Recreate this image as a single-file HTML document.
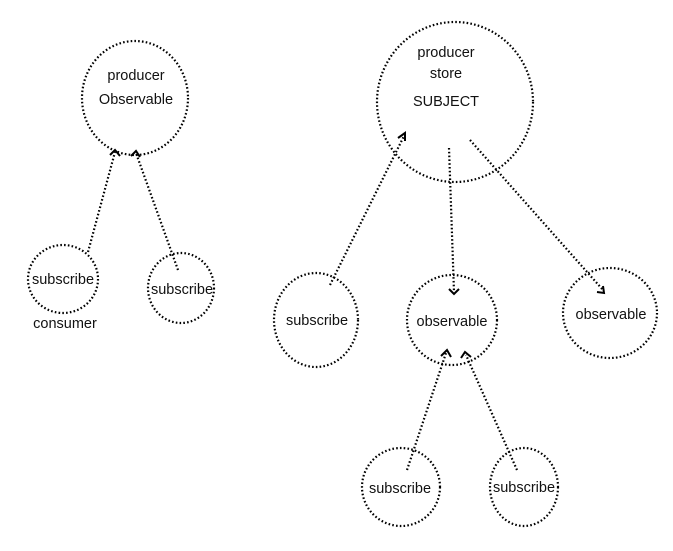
<!DOCTYPE html>
<html><head><meta charset="utf-8"><style>
html,body{margin:0;padding:0;background:#fff;}
svg text{font-family:"Liberation Sans",sans-serif;font-size:14.5px;fill:#111;text-anchor:middle;}
</style></head><body>
<svg width="673" height="546" viewBox="0 0 673 546" xmlns="http://www.w3.org/2000/svg">
<g fill="none" stroke="#000" stroke-width="2.2" stroke-dasharray="1.6 2.2">
<ellipse cx="135" cy="98" rx="53" ry="57"/>
<ellipse cx="63" cy="279" rx="35" ry="34"/>
<ellipse cx="181" cy="288" rx="33" ry="35"/>
<ellipse cx="455" cy="102" rx="78" ry="80"/>
<ellipse cx="316" cy="320" rx="42" ry="47"/>
<ellipse cx="452" cy="320" rx="45" ry="45"/>
<ellipse cx="610" cy="313" rx="47" ry="45"/>
<ellipse cx="401" cy="487" rx="39" ry="39"/>
<ellipse cx="524" cy="487" rx="34" ry="39"/>
<line x1="88" y1="252" x2="115" y2="152"/>
<line x1="178" y1="270" x2="136" y2="153"/>
<line x1="330" y1="285" x2="404" y2="136"/>
<line x1="449" y1="148" x2="454" y2="292"/>
<line x1="470" y1="140" x2="603" y2="290"/>
<line x1="407" y1="470" x2="446" y2="353"/>
<line x1="517" y1="470" x2="466" y2="355"/>
</g>
<g fill="none" stroke="#000" stroke-width="2">
<polyline points="110,155 115,150 120,156"/>
<polyline points="131,156 136,151 140,157"/>
<polyline points="398,138 405,133 405,141"/>
<polyline points="449,289 454,294 459,289"/>
<polyline points="597,292 604,293 603,286"/>
<polyline points="441,356 447,350 451,357"/>
<polyline points="461,358 465,352 471,357"/>
</g>
<text x="136" y="80">producer</text>
<text x="136" y="104">Observable</text>
<text x="63" y="284">subscribe</text>
<text x="65" y="328">consumer</text>
<text x="182" y="294">subscribe</text>
<text x="446" y="57">producer</text>
<text x="446" y="78">store</text>
<text x="446" y="106">SUBJECT</text>
<text x="317" y="325">subscribe</text>
<text x="452" y="326">observable</text>
<text x="611" y="319">observable</text>
<text x="400" y="493">subscribe</text>
<text x="524" y="492">subscribe</text>
</svg>
</body></html>
